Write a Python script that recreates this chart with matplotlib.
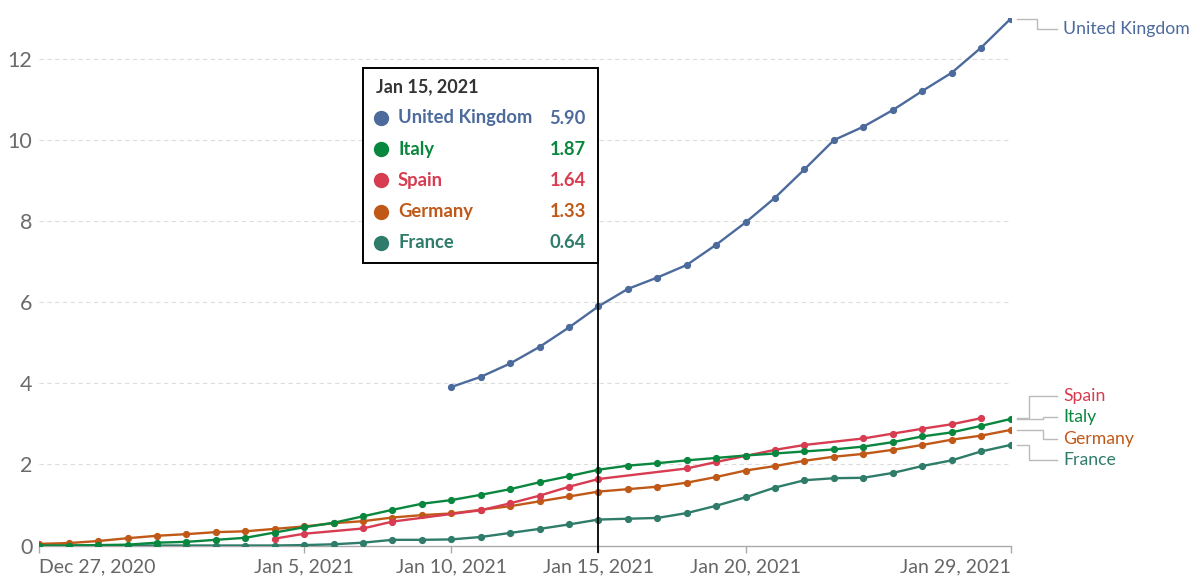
import numpy as np
import matplotlib
matplotlib.use('Agg')
import matplotlib.pyplot as plt
import matplotlib.dates as mdates
from matplotlib.patches import Rectangle
from matplotlib.transforms import blended_transform_factory

plt.rcParams['font.family'] = ['Lato', 'DejaVu Sans']

# ---- data (doses per 100 people) ----
all_days = np.arange(np.datetime64('2020-12-27'), np.datetime64('2021-01-30'))

uk_dates = np.arange(np.datetime64('2021-01-10'), np.datetime64('2021-01-30'))
uk_values = [3.91, 4.16, 4.49, 4.90, 5.38, 5.90, 6.33, 6.61, 6.92, 7.42,
             7.97, 8.58, 9.28, 10.00, 10.33, 10.74, 11.21, 11.66, 12.28, 12.99]

italy_dates = all_days
italy_values = [0.00, 0.00, 0.01, 0.02, 0.07, 0.09, 0.14, 0.19, 0.32, 0.45,
                0.56, 0.72, 0.88, 1.03, 1.12, 1.25, 1.39, 1.56, 1.71, 1.87,
                1.97, 2.03, 2.10, 2.16, 2.22, 2.27, 2.32, 2.37, 2.44, 2.55,
                2.69, 2.79, 2.95, 3.12]

spain_dates = np.array(['2021-01-04', '2021-01-05', '2021-01-07', '2021-01-08',
                        '2021-01-11', '2021-01-12', '2021-01-13', '2021-01-14',
                        '2021-01-15', '2021-01-18', '2021-01-19', '2021-01-20',
                        '2021-01-21', '2021-01-22', '2021-01-24', '2021-01-25',
                        '2021-01-26', '2021-01-27', '2021-01-28'], dtype='datetime64[D]')
spain_values = [0.17, 0.29, 0.42, 0.59, 0.87, 1.04, 1.23, 1.45, 1.64, 1.90,
                2.06, 2.21, 2.36, 2.48, 2.64, 2.76, 2.88, 2.99, 3.14]

germany_dates = all_days
germany_values = [0.04, 0.06, 0.11, 0.18, 0.24, 0.28, 0.33, 0.35, 0.41, 0.47,
                  0.55, 0.60, 0.69, 0.75, 0.79, 0.88, 0.97, 1.09, 1.21, 1.33,
                  1.39, 1.45, 1.55, 1.69, 1.85, 1.96, 2.09, 2.19, 2.26, 2.36,
                  2.48, 2.61, 2.71, 2.85]

france_dates = all_days
france_values = [0.00, 0.00, 0.00, 0.00, 0.00, 0.00, 0.00, 0.00, 0.00, 0.01,
                 0.03, 0.07, 0.14, 0.14, 0.15, 0.21, 0.31, 0.41, 0.52, 0.64,
                 0.66, 0.68, 0.80, 0.98, 1.19, 1.43, 1.61, 1.66, 1.67, 1.79,
                 1.96, 2.10, 2.32, 2.48]

tick_dates = np.array(['2020-12-27', '2021-01-05', '2021-01-10', '2021-01-15',
                       '2021-01-20', '2021-01-29'], dtype='datetime64[D]')
tick_labels = ['Dec 27, 2020', 'Jan 5, 2021', 'Jan 10, 2021', 'Jan 15, 2021',
               'Jan 20, 2021', 'Jan 29, 2021']
hover_date = np.datetime64('2021-01-15')
hover_title = 'Jan 15, 2021'

series = {
    'France':         (france_dates, france_values, '#2E7C69'),
    'Germany':        (germany_dates, germany_values, '#C05917'),
    'Spain':          (spain_dates, spain_values, '#D73C50'),
    'Italy':          (italy_dates, italy_values, '#0A873F'),
    'United Kingdom': (uk_dates, uk_values, '#4C6A9C'),
}

# ---- layout in pixels ----
W, H = 1198, 578
AX_L, AX_R = 39.3, 1010.5
Y0, PX_PER_UNIT = 545.5, 40.54
YMAX = 13.0
ax_top = Y0 - YMAX * PX_PER_UNIT

fig = plt.figure(figsize=(W / 100, H / 100), dpi=100)
ax = fig.add_axes([AX_L / W, (H - Y0) / H, (AX_R - AX_L) / W, (Y0 - ax_top) / H])

def fx(px):
    return px / W

def fy(py):
    return 1 - py / H

def dnum(d):
    return mdates.date2num(np.asarray(d).astype('datetime64[D]').astype(object))

for name, (d, v, c) in series.items():
    ax.plot(dnum(d), v, color=c, lw=1.7, marker='o', ms=4.2, zorder=3,
            solid_joinstyle='round')

ax.set_xlim(dnum(all_days[0]), dnum(all_days[-1]))
ax.set_ylim(0, YMAX)

# grid
for yv in range(2, 13, 2):
    ax.axhline(yv, color='#dddddd', lw=0.8, ls=(0, (4, 3)), zorder=1)

for s in ['top', 'right', 'left']:
    ax.spines[s].set_visible(False)
ax.spines['bottom'].set_color('#aaaaaa')
ax.spines['bottom'].set_linewidth(1.0)

ax.set_yticks(range(0, 13, 2))
ax.set_yticklabels([str(v) for v in range(0, 13, 2)])
ax.tick_params(axis='y', length=0, pad=5, labelsize=15.5, labelcolor='#6b6b6b')
ax.set_xticks(dnum(tick_dates))
ax.set_xticklabels(tick_labels)
ax.tick_params(axis='x', length=5, width=1, color='#aaaaaa', pad=4,
               labelsize=14, labelcolor='#666666')
xt = ax.get_xticklabels()
xt[0].set_ha('left')
xt[-1].set_ha('right')

# ---- end labels with elbow connectors ----
label_gap = 0.52
top_limit = 12.75
ends = []
for name, (d, v, c) in series.items():
    ends.append([name, v[-1], c])
ends.sort(key=lambda e: -e[1])

# spread labels that would collide
positions = [e[1] for e in ends]
groups = [[i] for i in range(len(ends))]
changed = True
while changed:
    changed = False
    new_groups = [groups[0]]
    for g in groups[1:]:
        prev = new_groups[-1]
        prev_center = np.mean([ends[i][1] for i in prev])
        prev_low = prev_center - label_gap * (len(prev) - 1) / 2
        cur_center = np.mean([ends[i][1] for i in g])
        cur_high = cur_center + label_gap * (len(g) - 1) / 2
        if prev_low - cur_high < label_gap:
            new_groups[-1] = prev + g
            changed = True
        else:
            new_groups.append(g)
    groups = new_groups
for g in groups:
    center = np.mean([ends[i][1] for i in g])
    top = center + label_gap * (len(g) - 1) / 2
    top = min(top, top_limit)
    for k, i in enumerate(g):
        positions[i] = top - k * label_gap

elbow_x = {'United Kingdom': 1036.7, 'Spain': 1029, 'Italy': 1043,
           'Germany': 1043, 'France': 1029}
tr = blended_transform_factory(fig.transFigure, ax.transData)
for (name, yend, c), ylab in zip(ends, positions):
    xs = [fx(1016.7), fx(elbow_x[name]), fx(elbow_x[name]), fx(1057)]
    ys = [yend, yend, ylab, ylab]
    ax.plot(xs, ys, color='#bbbbbb', lw=1.0, transform=tr, clip_on=False, zorder=2)
    ax.text(fx(1063), ylab, name, color=c, fontsize=12.7, va='center',
            ha='left', transform=tr)

# ---- hover line and tooltip ----
trv = blended_transform_factory(ax.transData, fig.transFigure)
xh = dnum(hover_date)
ax.plot([xh, xh], [fy(263), fy(552)], color='black', lw=1.3,
        transform=trv, clip_on=False, zorder=5)

box = Rectangle((fx(363), fy(263)), fx(598) - fx(363), fy(68) - fy(263),
                transform=fig.transFigure, facecolor='white', edgecolor='black',
                lw=1.4, zorder=10)
fig.patches.append(box)
fig.text(fx(376), fy(87), hover_title, fontsize=13, fontweight='bold',
         color='#333333', va='center', ha='left', zorder=11)

rows = []
for name, (d, v, c) in series.items():
    idx = np.where(np.asarray(d).astype('datetime64[D]') == hover_date)[0]
    if len(idx):
        rows.append((name, v[idx[0]], c))
rows.sort(key=lambda r: -r[1])
row_y0, row_step = 118, 31.2
for k, (name, val, c) in enumerate(rows):
    yy = fy(row_y0 + k * row_step)
    fig.add_artist(plt.Line2D([fx(381)], [yy], marker='o', ms=10, color=c,
                              transform=fig.transFigure, zorder=11))
    fig.text(fx(398), yy, name, fontsize=13.2, fontweight='bold', color=c,
             va='center', ha='left', zorder=11)
    fig.text(fx(586), yy, '%.2f' % val, fontsize=13.2, fontweight='bold', color=c,
             va='center', ha='right', zorder=11)

fig.savefig('out.png', dpi=100)
